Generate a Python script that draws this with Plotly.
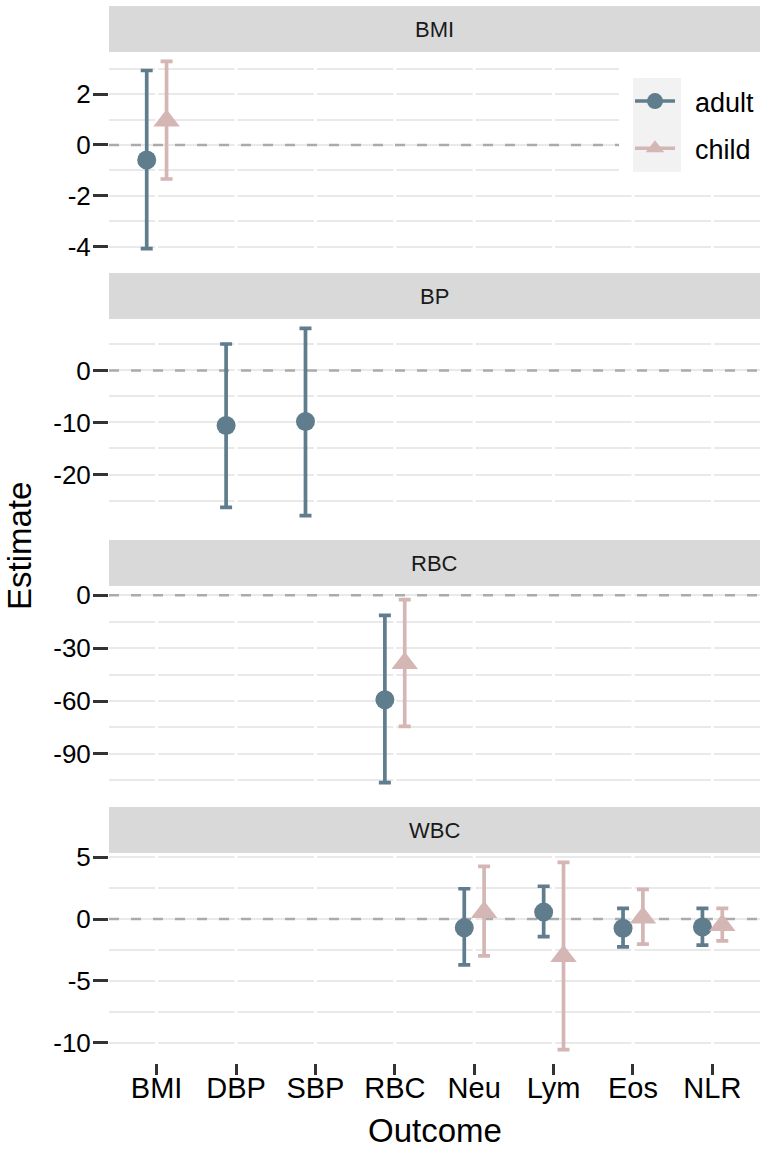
import math
import plotly.graph_objects as go

# ---------------- data ----------------
outcomes = ["BMI", "DBP", "SBP", "RBC", "Neu", "Lym", "Eos", "NLR"]
facet = ["BMI", "BP", "BP", "RBC", "WBC", "WBC", "WBC", "WBC"]
panels = ["BMI", "BP", "RBC", "WBC"]
panel_dtick = [2, 10, 30, 5]

adult_est = [-0.59, -10.6, -9.8, -59.3, -0.70, 0.56, -0.75, -0.64]
adult_lo = [-4.08, -26.3, -27.9, -106.3, -3.70, -1.42, -2.25, -2.10]
adult_hi = [2.93, 5.08, 8.08, -11.4, 2.45, 2.65, 0.86, 0.86]

child_est = [0.95, None, None, -38.5, 0.55, -3.0, 0.10, -0.50]
child_lo = [-1.34, None, None, -74.4, -2.97, -10.55, -2.03, -1.77]
child_hi = [3.29, None, None, -2.4, 4.26, 4.58, 2.39, 0.86]

groups = ["adult", "child"]

# ---------------- style / layout ----------------
W, H = 768, 1150
LEFT, RIGHT = 109, 760
TOPS = [52, 319, 586, 853]
BOTS = [258, 525, 792, 1059]
STRIP_H = 46
ADULT = "#5F7D8C"
CHILD = "#D4B6B5"
DODGE = 0.125
FONT = "Liberation Sans, Arial, sans-serif"
GRID = "#E9E9E9"

fig = go.Figure()

series = [
    ("adult", adult_est, adult_lo, adult_hi, ADULT, "circle", 19, -DODGE),
    ("child", child_est, child_lo, child_hi, CHILD, "triangle-up", 23, DODGE),
]

layout = {}
shapes = []
annotations = []
ncat = len(outcomes)
xr = [-0.6, ncat - 1 + 0.6]

for p, name in enumerate(panels):
    sfx = "" if p == 0 else str(p + 1)
    idx = [i for i, f in enumerate(facet) if f == name]

    vals = [0]
    for i in idx:
        for v in (adult_lo[i], adult_hi[i], child_lo[i], child_hi[i]):
            if v is not None:
                vals.append(v)
    vmin, vmax = min(vals), max(vals)
    pad = 0.05 * (vmax - vmin)
    yr = [vmin - pad, vmax + pad]

    # white vertical separators (ggplot-like white vertical grid)
    vx, vy = [], []
    for i in range(ncat):
        vx += [i, i, None]
        vy += [yr[0], yr[1], None]
    fig.add_trace(go.Scatter(x=vx, y=vy, mode="lines", showlegend=False,
                             hoverinfo="skip", line=dict(color="white", width=3),
                             xaxis="x" + sfx, yaxis="y" + sfx))
    # dashed zero reference
    fig.add_trace(go.Scatter(x=xr, y=[0, 0], mode="lines", showlegend=False,
                             hoverinfo="skip",
                             line=dict(color="#ABABAB", width=2.5, dash="10px,12px"),
                             xaxis="x" + sfx, yaxis="y" + sfx))

    for grp, est, lo, hi, col, sym, size, off in series:
        xs, ys, up, dn = [], [], [], []
        for i in idx:
            if est[i] is None:
                continue
            xs.append(i + off)
            ys.append(est[i])
            up.append(hi[i] - est[i])
            dn.append(est[i] - lo[i])
        if xs:
            fig.add_trace(go.Scatter(
                x=xs, y=ys, mode="markers", name=grp, showlegend=False,
                marker=dict(color=col, symbol=sym, size=size, line=dict(width=0)),
                error_y=dict(type="data", symmetric=False, array=up, arrayminus=dn,
                             color=col, thickness=3.7, width=6),
                xaxis="x" + sfx, yaxis="y" + sfx,
            ))

    d = panel_dtick[p]
    tv = [k * d for k in range(math.ceil(yr[0] / d), math.floor(yr[1] / d) + 1)]
    tt = [str(v) for v in tv]
    ydom = [1 - BOTS[p] / H, 1 - TOPS[p] / H]
    layout["yaxis" + sfx] = dict(
        domain=ydom, range=yr, anchor="x" + sfx, automargin=False,
        tickvals=tv, ticktext=tt,
        showgrid=True, gridcolor=GRID, gridwidth=1.8,
        minor=dict(tick0=0, dtick=d / 2, showgrid=True, gridcolor=GRID, gridwidth=1.8),
        ticks="outside", ticklen=15, tickwidth=2.5, tickcolor="#333333",
        tickfont=dict(family=FONT, size=26, color="black"),
        ticklabelstandoff=-3,
        zeroline=False, showline=False,
    )
    last = p == len(panels) - 1
    xa = dict(
        domain=[LEFT / W, RIGHT / W], range=xr, automargin=False,
        showgrid=False, zeroline=False, showline=False,
        tickvals=list(range(ncat)), ticktext=outcomes,
        showticklabels=last, ticks="outside" if last else "",
        ticklen=11, tickwidth=2.5, tickcolor="#333333",
        tickfont=dict(family=FONT, size=29, color="black"),
    )
    if last:
        xa["anchor"] = "free"
        xa["position"] = 1 - 1063 / H
        xa["ticklabelstandoff"] = -12
    else:
        xa["anchor"] = "y" + sfx
    layout["xaxis" + sfx] = xa

    # strip
    shapes.append(dict(type="rect", xref="paper", yref="paper",
                       x0=LEFT / W, x1=RIGHT / W,
                       y0=1 - TOPS[p] / H, y1=1 - (TOPS[p] - STRIP_H) / H,
                       fillcolor="#D9D9D9", line=dict(width=0), layer="above"))
    annotations.append(dict(text=name, xref="paper", yref="paper",
                            x=(LEFT + RIGHT) / 2 / W,
                            y=1 - (TOPS[p] - STRIP_H / 2) / H,
                            showarrow=False, xanchor="center", yanchor="middle",
                            font=dict(family=FONT, size=22, color="#1A1A1A")))

# legend background boxes
shapes.append(dict(type="rect", xref="paper", yref="paper",
                   x0=619 / W, x1=761 / W, y0=1 - 172 / H, y1=1 - 52 / H,
                   fillcolor="white", line=dict(width=0), layer="above"))
shapes.append(dict(type="rect", xref="paper", yref="paper",
                   x0=633 / W, x1=681 / W, y0=1 - 172 / H, y1=1 - 78 / H,
                   fillcolor="#F2F2F2", line=dict(width=0), layer="above"))

# legend entries
for grp, est, lo, hi, col, sym, size, off in series:
    fig.add_trace(go.Scatter(
        x=[None], y=[None], mode="lines+markers", name="\u00a0\u00a0" + grp,
        legendgroup=grp,
        line=dict(color=col, width=3.5),
        marker=dict(color=col, symbol=sym, size=size),
        xaxis="x", yaxis="y",
    ))

annotations.append(dict(text="Outcome", xref="paper", yref="paper",
                        x=(LEFT + RIGHT) / 2 / W, y=1 - 1130 / H,
                        showarrow=False, xanchor="center", yanchor="middle",
                        font=dict(family=FONT, size=33, color="black")))
annotations.append(dict(text="Estimate", xref="paper", yref="paper",
                        x=19 / W, y=1 - 546 / H, textangle=-90,
                        showarrow=False, xanchor="center", yanchor="middle",
                        font=dict(family=FONT, size=33, color="black")))

fig.update_layout(
    width=W, height=H, autosize=False,
    margin=dict(l=0, r=0, t=0, b=0, pad=0),
    paper_bgcolor="white", plot_bgcolor="white",
    showlegend=True,
    legend=dict(x=630 / W, y=1 - 77 / H, xanchor="left", yanchor="top",
                bgcolor="rgba(0,0,0,0)", borderwidth=0,
                font=dict(family=FONT, size=27, color="black"),
                traceorder="grouped", tracegroupgap=9, itemwidth=40),
    shapes=shapes, annotations=annotations,
    **layout,
)

fig.write_html("out.html")
